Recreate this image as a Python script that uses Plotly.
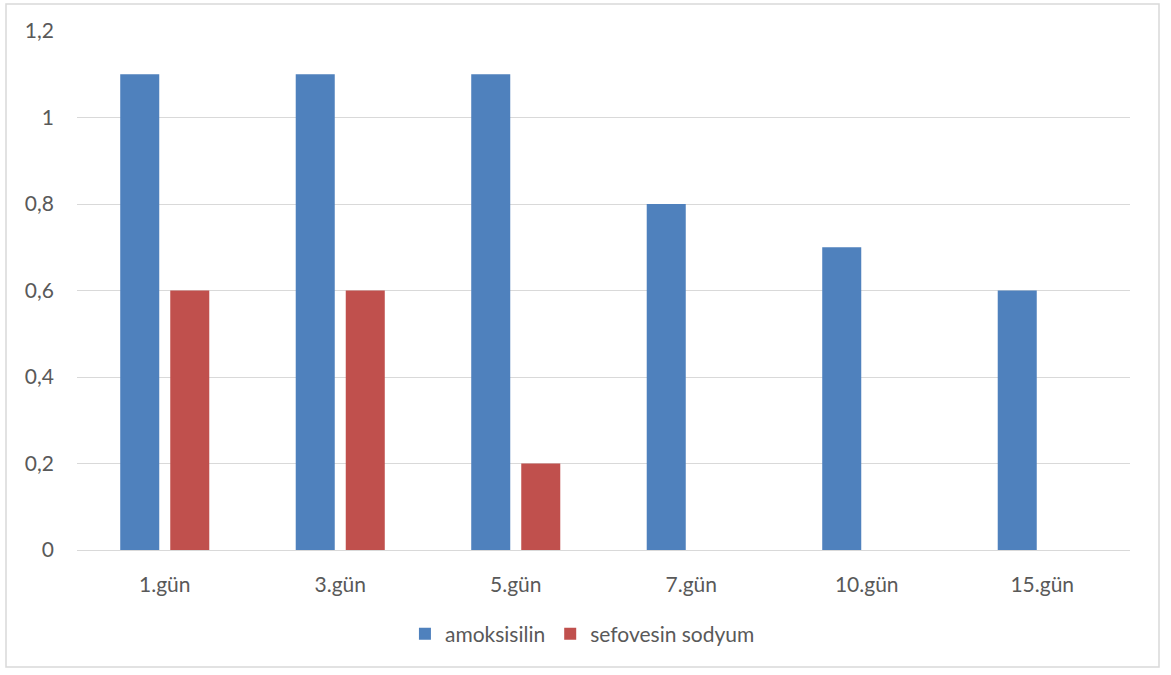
import plotly.graph_objects as go

days = ["1.gün", "3.gün", "5.gün", "7.gün", "10.gün", "15.gün"]
amoksisilin = [1.1, 1.1, 1.1, 0.8, 0.7, 0.6]
sefovesin_sodyum = [0.6, 0.6, 0.2, 0, 0, 0]

W, H = 1171, 675
L, R, T, B = 77, 1130, 31, 550  # plot area edges in pixels
pw, ph = R - L, B - T

def px_x(x):
    return (x - L) / pw

def px_y(y):
    return (B - y) / ph

font_family = "Lato, 'Open Sans', sans-serif"
text_color = "#595959"
fs = 21

fig = go.Figure()
fig.add_trace(go.Bar(name="amoksisilin", x=days, y=amoksisilin,
                     marker=dict(color="#4F81BD", line=dict(width=0))))
fig.add_trace(go.Bar(name="sefovesin sodyum", x=days, y=sefovesin_sodyum,
                     marker=dict(color="#C0504D", line=dict(width=0))))

fig.update_layout(
    width=W, height=H,
    margin=dict(l=L, r=W - R, t=T, b=H - B),
    paper_bgcolor="white", plot_bgcolor="white",
    barmode="group", bargap=0.43, bargroupgap=0.22,
    separators=",.",
    font=dict(family=font_family, size=fs, color=text_color),
    showlegend=True,
    legend=dict(orientation="h", x=0.48, xanchor="center", y=px_y(634), yanchor="middle",
                font=dict(size=fs, color=text_color), itemwidth=30, tracegroupgap=0),
    hovermode=False,
)
fig.update_yaxes(range=[0, 1.2], dtick=0.2, showgrid=True, gridcolor="#d9d9d9", gridwidth=1,
                 zeroline=False, showline=False, ticks="", ticklabelstandoff=22,
                 tickfont=dict(size=fs, color=text_color))
fig.update_xaxes(showline=True, linecolor="#d9d9d9", linewidth=1, ticks="",
                 ticklabelstandoff=16, tickfont=dict(size=fs, color=text_color))

# outer chart border
fig.add_shape(type="rect", xref="paper", yref="paper",
              x0=px_x(6), x1=px_x(1159), y0=px_y(667), y1=px_y(4),
              line=dict(color="#d9d9d9", width=1.5), fillcolor="rgba(0,0,0,0)", layer="below")

fig.write_html("out.html")
